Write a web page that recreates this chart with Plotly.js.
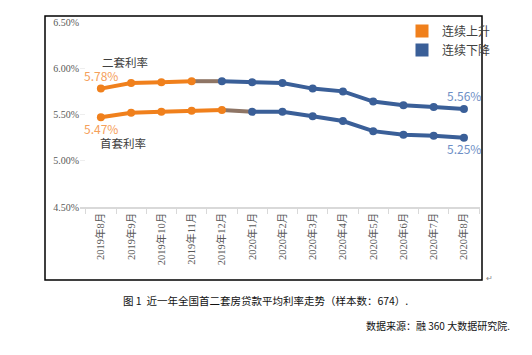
<!DOCTYPE html>
<html>
<head>
<meta charset="utf-8">
<script src="https://cdn.plot.ly/plotly-3.0.1.min.js"></script>
<style>html,body{margin:0;padding:0;background:#fff;}#chart{width:532px;height:355px;}</style>
</head>
<body>
<div id="chart"></div>
<script>
// ---- data ----
const months = ['2019年8月','2019年9月','2019年10月','2019年11月','2019年12月','2020年1月','2020年2月','2020年3月','2020年4月','2020年5月','2020年6月','2020年7月','2020年8月'];
const secondRate = [5.78, 5.84, 5.85, 5.86, 5.86, 5.85, 5.84, 5.78, 5.75, 5.64, 5.60, 5.58, 5.56];
const firstRate  = [5.47, 5.52, 5.53, 5.54, 5.55, 5.53, 5.53, 5.48, 5.43, 5.32, 5.28, 5.27, 5.25];
const secondRiseEnd = 3;   // last rising index for 二套
const firstRiseEnd = 4;    // last rising index for 首套
const seriesNames = ['二套利率', '首套利率'];
const legendNames = ['连续上升', '连续下降'];
const yTicks = [4.5, 5.0, 5.5, 6.0, 6.5];
const yTickText = ['4.50%', '5.00%', '5.50%', '6.00%', '6.50%'];

const ORANGE = '#F0801C', BLUE = '#3A5F98', MID = '#8E7565';
const ORANGE_LBL = '#F5A05A', BLUE_LBL = '#6E8FC6';

function seg(vals, a, b, color, withMarkers) {
  return {
    x: months.slice(a, b + 1), y: vals.slice(a, b + 1),
    type: 'scatter', mode: withMarkers ? 'lines+markers' : 'lines',
    line: {color: color, width: 4}, marker: {color: color, size: 8},
    showlegend: false, hoverinfo: 'skip', cliponaxis: false
  };
}
const traces = [];
[[secondRate, secondRiseEnd], [firstRate, firstRiseEnd]].forEach(([vals, e]) => {
  traces.push(seg(vals, e, e + 1, MID, false));
  traces.push(seg(vals, 0, e, ORANGE, true));
  traces.push(seg(vals, e + 1, vals.length - 1, BLUE, true));
});
traces.push({x: [null], y: [null], type: 'scatter', mode: 'markers', name: legendNames[0],
  marker: {symbol: 'square', color: ORANGE, size: 13}, showlegend: true});
traces.push({x: [null], y: [null], type: 'scatter', mode: 'markers', name: legendNames[1],
  marker: {symbol: 'square', color: BLUE, size: 13}, showlegend: true});

const last = months.length - 1;
const sans = '"Noto Sans CJK SC", "Noto Sans", sans-serif';
const pct = v => v.toFixed(2) + '%';
const annotations = [
  {x: months[0], y: secondRate[0], text: pct(secondRate[0]), showarrow: false, yshift: 13, font: {color: ORANGE_LBL, size: 12, family: sans}},
  {x: months[0], y: secondRate[0], text: seriesNames[0], showarrow: false, xshift: 24, yshift: 27, font: {color: '#404040', size: 11.5, family: sans}},
  {x: months[0], y: firstRate[0], text: pct(firstRate[0]), showarrow: false, yshift: -11, font: {color: ORANGE_LBL, size: 12, family: sans}},
  {x: months[0], y: firstRate[0], text: seriesNames[1], showarrow: false, xshift: 22, yshift: -26, font: {color: '#404040', size: 11.5, family: sans}},
  {x: months[last], y: secondRate[last], text: pct(secondRate[last]), showarrow: false, yshift: 13, font: {color: BLUE_LBL, size: 12, family: sans}},
  {x: months[last], y: firstRate[last], text: pct(firstRate[last]), showarrow: false, yshift: -11, font: {color: BLUE_LBL, size: 12, family: sans}},
  {xref: 'paper', yref: 'paper', x: 0.1025, y: -0.503, xanchor: 'left', yanchor: 'middle', showarrow: false,
   text: '图 1  近一年全国首二套房贷款平均利率走势（样本数：674）.', font: {color: '#111', size: 10.5, family: sans}},
  {xref: 'paper', yref: 'paper', x: 1.08, y: -0.638, xanchor: 'right', yanchor: 'middle', showarrow: false,
   text: '数据来源：融 360 大数据研究院.', font: {color: '#111', size: 10, family: sans}},
  {xref: 'paper', yref: 'paper', x: 1.025, y: -0.38, xanchor: 'center', yanchor: 'middle', showarrow: false,
   text: '↵', font: {color: '#888', size: 8, family: sans}}
];

const layout = {
  width: 532, height: 355,
  margin: {l: 80, r: 52, t: 22, b: 148},
  paper_bgcolor: '#fff', plot_bgcolor: 'rgba(0,0,0,0)',
  showlegend: true,
  legend: {x: 0.805, y: 1.03, xanchor: 'left', yanchor: 'top', bgcolor: 'rgba(0,0,0,0)',
    font: {size: 12, color: '#404040', family: sans}, itemwidth: 30, tracegroupgap: 2},
  xaxis: {
    type: 'category', categoryorder: 'array', categoryarray: months,
    range: [-0.69, 12.53], tickangle: -90, tickson: 'boundaries',
    ticks: 'outside', ticklen: 5, tickcolor: '#d9d9d9',
    showline: true, linecolor: '#d9d9d9', linewidth: 1.5, showgrid: false, zeroline: false,
    tickfont: {family: '"Liberation Serif", "Noto Sans CJK SC", serif', size: 10.5, color: '#595959'}
  },
  yaxis: {
    range: [4.5, 6.5], tickvals: yTicks, ticktext: yTickText,
    showgrid: false, zeroline: false, showline: false,
    ticks: 'inside', ticklen: 5, tickcolor: '#eeeeee',
    tickfont: {family: '"Liberation Serif", serif', size: 10, color: '#595959'}
  },
  shapes: [{type: 'rect', xref: 'paper', yref: 'paper', x0: -0.0875, x1: 1.005, y0: -0.395, y1: 1.032,
    line: {color: '#000', width: 1.5}, fillcolor: 'rgba(0,0,0,0)', layer: 'above'}],
  annotations: annotations
};
Plotly.newPlot('chart', traces, layout, {staticPlot: true, displayModeBar: false});
</script>
</body>
</html>
